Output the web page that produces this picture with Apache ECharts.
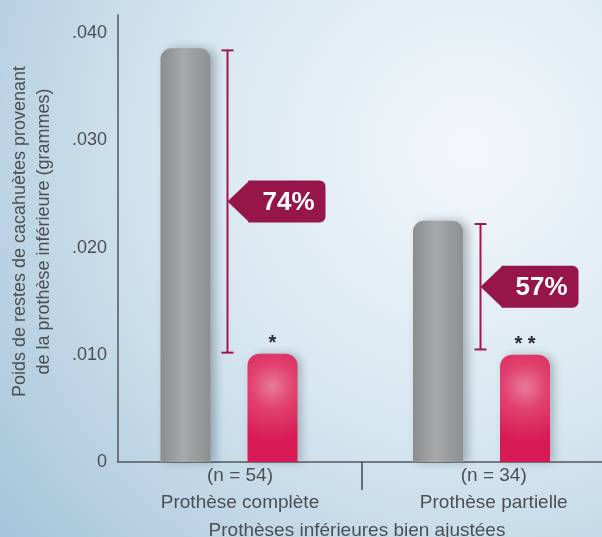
<!DOCTYPE html>
<html>
<head>
<meta charset="utf-8">
<script src="https://cdn.jsdelivr.net/npm/echarts@6/dist/echarts.min.js"></script>
<style>
  html, body { margin: 0; padding: 0; }
  #main { width: 602px; height: 537px; }
</style>
</head>
<body>
<div id="main"></div>
<script>
// data
const categories = ['Prothèse complète', 'Prothèse partielle'];
const sampleSizes = ['(n = 54)', '(n = 34)'];
const grayValues = [0.0386, 0.0225];
const pinkValues = [0.0101, 0.0100];
const rangeTop = [0.0384, 0.0222];
const rangeBottom = [0.0102, 0.0105];
const reductions = ['74%', '57%'];
const stars = ['*', '* *'];
const yTicks = [0, 0.01, 0.02, 0.03, 0.04];
const yMax = 0.0417;

const font = '"Liberation Sans", Arial, sans-serif';
const textColor = '#4d4f52';
const maroon = '#96164a';

const chart = echarts.init(document.getElementById('main'));

function yLabel(v) {
  const hit = yTicks.find(t => Math.abs(t - v) < 1e-7);
  if (hit === undefined) return '';
  return hit === 0 ? '0' : hit.toFixed(3).slice(1);
}

function renderRange(params, api) {
  const i = api.value(0);
  const top = api.coord([i, api.value(1)]);
  const bot = api.coord([i, api.value(2)]);
  const x = Math.round(top[0] - 2) + 0.5;
  const mid = (top[1] + bot[1]) / 2;
  const c = '#a3174e';
  return {
    type: 'group',
    children: [
      { type: 'line', shape: { x1: x, y1: top[1], x2: x, y2: bot[1] }, style: { stroke: c, lineWidth: 2 } },
      { type: 'line', shape: { x1: x - 6, y1: top[1], x2: x + 6, y2: top[1] }, style: { stroke: c, lineWidth: 2 } },
      { type: 'line', shape: { x1: x - 6, y1: bot[1], x2: x + 6, y2: bot[1] }, style: { stroke: c, lineWidth: 2 } },
      { type: 'polygon', shape: { points: [[x, mid], [x + 22, mid - 21], [x + 22, mid + 21]] }, style: { fill: maroon } },
      { type: 'rect', shape: { x: x + 21, y: mid - 21, width: 77, height: 42, r: [0, 6, 6, 0] }, style: { fill: maroon } },
      {
        type: 'text',
        style: {
          text: reductions[params.dataIndex], x: x + 61, y: mid + 1,
          fill: '#ffffff', fontSize: 26, fontWeight: 'bold', fontFamily: font,
          align: 'center', verticalAlign: 'middle'
        }
      }
    ]
  };
}

const option = {
  animation: false,
  backgroundColor: new echarts.graphic.RadialGradient(0.78, 0.28, 1.1, [
    { offset: 0, color: '#f3f7fa' },
    { offset: 0.5, color: '#d6e6f0' },
    { offset: 1, color: '#a8c6db' }
  ]),
  grid: [
    { left: 118, right: -4, top: 15, bottom: 75, outerBoundsMode: 'none', containLabel: false },
    { left: 102.75, right: -5.75, top: 15, bottom: 75, outerBoundsMode: 'none', containLabel: false }
  ],
  xAxis: [
    {
      type: 'value', gridIndex: 0, min: 0, max: 2,
      axisLine: { show: true, lineStyle: { color: '#55585c', width: 1.5 } },
      axisTick: { show: true, customValues: [1], length: 28, lineStyle: { color: '#44474a', width: 1.5 } },
      axisLabel: {
        customValues: [0.5, 1.54], margin: 0,
        formatter: v => { const i = Math.floor(v); return sampleSizes[i] + '\n' + categories[i]; },
        color: textColor, fontSize: 19, fontFamily: font, lineHeight: 27
      },
      splitLine: { show: false },
      name: 'Prothèses inférieures bien ajustées',
      nameLocation: 'middle', nameGap: 56,
      nameTextStyle: { color: textColor, fontSize: 19, fontFamily: font, padding: [0, 10, 0, 0] }
    },
    {
      type: 'category', gridIndex: 1, data: categories, show: false
    }
  ],
  yAxis: [
    {
      type: 'value', gridIndex: 0, min: 0, max: yMax, interval: 0.01,
      axisLine: { show: true, lineStyle: { color: '#55585c', width: 1.5 } },
      axisTick: { show: false },
      splitLine: { show: false },
      axisLabel: { formatter: yLabel, margin: 11, color: textColor, fontSize: 18, fontFamily: font },
      name: 'Poids de restes de cacahuètes provenant\nde la prothèse inférieure (grammes)',
      nameLocation: 'middle', nameRotate: 90, nameGap: 62,
      nameTextStyle: { color: textColor, fontSize: 18, fontFamily: font, lineHeight: 24, padding: [0, 0, 0, 14] }
    },
    { type: 'value', gridIndex: 1, min: 0, max: yMax, show: false }
  ],
  series: [
    {
      name: 'gris', type: 'bar', xAxisIndex: 1, yAxisIndex: 1,
      data: grayValues, barWidth: 50, barGap: '74%',
      itemStyle: {
        borderRadius: [11, 11, 0, 0],
        color: new echarts.graphic.LinearGradient(0, 0, 1, 0, [
          { offset: 0, color: '#8b8c8e' },
          { offset: 0.45, color: '#a8a9ab' },
          { offset: 1, color: '#8e8f91' }
        ]),
        shadowColor: 'rgba(50,60,70,0.35)', shadowBlur: 10, shadowOffsetX: 5
      }
    },
    {
      name: 'rose', type: 'bar', xAxisIndex: 1, yAxisIndex: 1,
      data: pinkValues, barWidth: 50,
      itemStyle: {
        borderRadius: [12, 12, 0, 0],
        color: new echarts.graphic.RadialGradient(0.5, 0.3, 1.1, [
          { offset: 0, color: '#e77b9b' },
          { offset: 0.4, color: '#e1426f' },
          { offset: 1, color: '#d71a55' }
        ]),
        shadowColor: 'rgba(50,60,70,0.3)', shadowBlur: 8, shadowOffsetX: 4
      },
      label: {
        show: true, position: 'top', distance: 0,
        formatter: p => stars[p.dataIndex],
        color: '#2a2a2c', fontSize: 20, fontWeight: 'bold', fontFamily: font
      }
    },
    {
      name: 'écart', type: 'custom', xAxisIndex: 1, yAxisIndex: 1,
      renderItem: renderRange,
      data: rangeTop.map((t, i) => [i, t, rangeBottom[i]]),
      z: 5
    }
  ]
};

chart.setOption(option);
</script>
</body>
</html>
